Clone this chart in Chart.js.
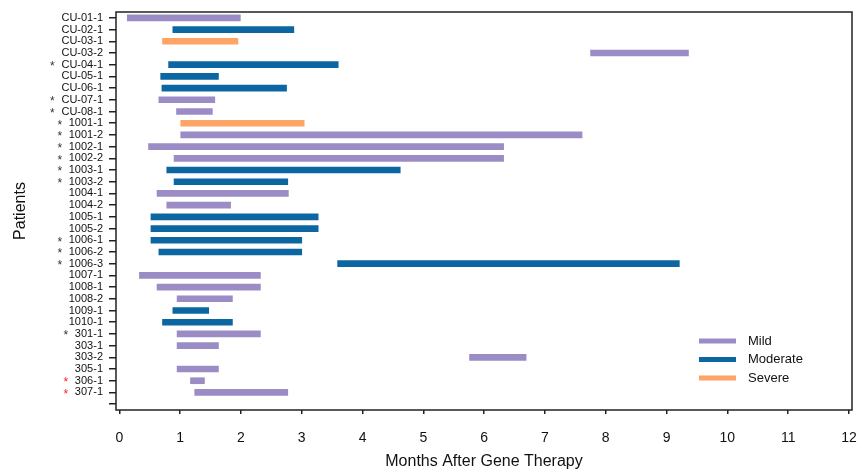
<!DOCTYPE html>
<html>
<head>
<meta charset="utf-8">
<script src="https://cdn.jsdelivr.net/npm/chart.js@4"></script>
<style>
  body { margin: 0; background: #fff; }
  #wrap { width: 857px; height: 471px; }
</style>
</head>
<body>
<div id="wrap"><canvas id="aeChart" width="857" height="471"></canvas></div>
<script>
// Patients, in plot order (top to bottom)
const patients = ['CU-01-1', 'CU-02-1', 'CU-03-1', 'CU-03-2', 'CU-04-1', 'CU-05-1', 'CU-06-1', 'CU-07-1', 'CU-08-1',
  '1001-1', '1001-2', '1002-1', '1002-2', '1003-1', '1003-2', '1004-1', '1004-2', '1005-1', '1005-2',
  '1006-1', '1006-2', '1006-3', '1007-1', '1008-1', '1008-2', '1009-1', '1010-1',
  '301-1', '303-1', '303-2', '305-1', '306-1', '307-1'];

// Severity of each patient's event
const grade = ['Mild', 'Moderate', 'Severe', 'Mild', 'Moderate', 'Moderate', 'Moderate', 'Mild', 'Mild',
  'Severe', 'Mild', 'Mild', 'Mild', 'Moderate', 'Moderate', 'Mild', 'Mild', 'Moderate', 'Moderate',
  'Moderate', 'Moderate', 'Moderate', 'Mild', 'Mild', 'Mild', 'Moderate', 'Moderate',
  'Mild', 'Mild', 'Mild', 'Mild', 'Mild', 'Mild'];

// Start / end (months after gene therapy)
const starts = [0.13, 0.88, 0.71, 7.75, 0.81, 0.68, 0.70, 0.65, 0.94,
  1.01, 1.01, 0.48, 0.90, 0.78, 0.90, 0.62, 0.78, 0.52, 0.52,
  0.52, 0.65, 3.59, 0.33, 0.62, 0.95, 0.88, 0.71,
  0.95, 0.95, 5.76, 0.95, 1.17, 1.24];
const ends = [1.99, 2.87, 1.95, 9.36, 3.60, 1.63, 2.75, 1.57, 1.53,
  3.04, 7.61, 6.32, 6.32, 4.62, 2.77, 2.78, 1.83, 3.27, 3.27,
  3.00, 3.00, 9.21, 2.32, 2.32, 1.86, 1.47, 1.86,
  2.32, 1.63, 6.69, 1.63, 1.40, 2.77];

// Asterisk marks beside patient labels
const starBlack = ['CU-04-1', 'CU-07-1', 'CU-08-1', '1001-1', '1001-2', '1002-1', '1002-2', '1003-1', '1003-2',
  '1006-1', '1006-2', '1006-3', '301-1'];
const starRed = ['306-1', '307-1'];

const severities = ['Mild', 'Moderate', 'Severe'];
const sevColors = ['#9b8cc5', '#0b66a1', '#fda466'];
const xTicks = [0, 1, 2, 3, 4, 5, 6, 7, 8, 9, 10, 11, 12];

const FONT = '"Liberation Sans", Arial, sans-serif';
Chart.defaults.font.family = FONT;
Chart.defaults.color = '#111';

// one empty slot at the bottom, as in the original axis
const yLabels = patients.concat(['']);

const datasets = severities.map((sev, k) => ({
  label: sev,
  data: patients.map((p, i) => grade[i] === sev ? [starts[i], ends[i]] : null),
  backgroundColor: sevColors[k],
  barThickness: 6,
  grouped: false
}));

// frame around the plot area
const framePlugin = {
  id: 'frame',
  afterDraw(chart) {
    const { ctx, chartArea: a } = chart;
    ctx.save();
    ctx.strokeStyle = '#222';
    ctx.lineWidth = 1.5;
    ctx.strokeRect(a.left, a.top, a.right - a.left, a.bottom - a.top);
    ctx.restore();
  }
};

// asterisks in front of the patient labels
const starPlugin = {
  id: 'stars',
  afterDraw(chart) {
    const { ctx } = chart;
    const y = chart.scales.y;
    ctx.save();
    ctx.textAlign = 'center';
    ctx.textBaseline = 'middle';
    patients.forEach((p, i) => {
      const red = starRed.includes(p);
      if (!red && !starBlack.includes(p)) return;
      ctx.font = '11px ' + FONT;
      const w = ctx.measureText(p).width;
      const xRight = y.right - 7 - 6;
      ctx.fillStyle = red ? '#ff2020' : '#333';
      ctx.font = '12px ' + FONT;
      ctx.fillText('*', xRight - w - 9, y.getPixelForTick(i) + 2);
    });
    ctx.restore();
  }
};

// legend inside the plot, bottom right
const legendPlugin = {
  id: 'insideLegend',
  afterDraw(chart) {
    const { ctx, chartArea: a } = chart;
    ctx.save();
    ctx.font = '13px ' + FONT;
    ctx.textBaseline = 'middle';
    ctx.textAlign = 'left';
    chart.data.datasets.forEach((ds, k) => {
      const yy = a.bottom - 69 + k * 18.5;
      ctx.fillStyle = ds.backgroundColor;
      ctx.fillRect(a.right - 153, yy - 2.5, 37, 5);
      ctx.fillStyle = '#111';
      ctx.fillText(ds.label, a.right - 104, yy);
    });
    ctx.restore();
  }
};

new Chart(document.getElementById('aeChart'), {
  type: 'bar',
  data: { labels: yLabels, datasets: datasets },
  options: {
    indexAxis: 'y',
    responsive: false,
    animation: false,
    layout: { padding: { top: 12, right: 5, left: 0, bottom: 0 } },
    plugins: {
      legend: { display: false },
      tooltip: { enabled: false }
    },
    scales: {
      x: {
        type: 'linear',
        min: -0.055,
        max: 12.05,
        afterBuildTicks: (scale) => { scale.ticks = xTicks.map(v => ({ value: v })); },
        afterFit: (scale) => { scale.height = 61; scale.paddingLeft = 0; scale.paddingRight = 0; },
        border: { display: false },
        grid: { drawOnChartArea: false, drawTicks: true, tickLength: 4, tickColor: '#222', lineWidth: 1.5 },
        ticks: { font: { size: 14 }, padding: 16, color: '#111' },
        title: { display: true, text: 'Months After Gene Therapy', font: { size: 16 }, color: '#111', padding: { top: 7, bottom: 0 } }
      },
      y: {
        type: 'category',
        offset: true,
        afterFit: (scale) => { scale.width = 116; scale.paddingTop = 0; scale.paddingBottom = 0; },
        border: { display: false },
        grid: { offset: false, drawOnChartArea: false, drawTicks: true, tickLength: 7, tickColor: '#222', lineWidth: 1.5 },
        ticks: { autoSkip: false, font: { size: 11 }, padding: 6, color: '#111' },
        title: { display: true, text: 'Patients', font: { size: 16 }, color: '#111', padding: { top: 11, bottom: 0 } }
      }
    }
  },
  plugins: [framePlugin, starPlugin, legendPlugin]
});
</script>
</body>
</html>
